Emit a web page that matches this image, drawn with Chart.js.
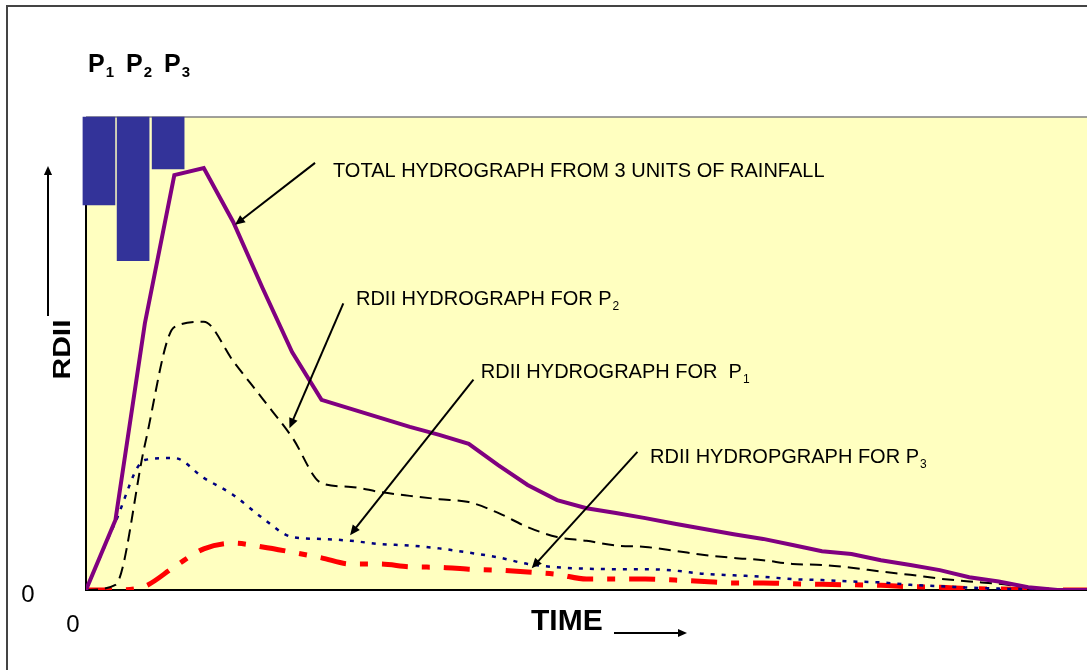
<!DOCTYPE html>
<html>
<head>
    <title>RDII Hydrograph</title>
    <script src="https://cdn.jsdelivr.net/npm/chart.js"></script>
    <style>
        body {
            margin: 0;
            background: #fff;
            overflow: hidden;
        }
        .frame {
            position: absolute;
            left: 6px;
            top: 5px;
            width: 1120px;
            height: 720px;
            border: 2px solid #444;
        }
        #chart {
            position: absolute;
            left: 0;
            top: 0;
        }
    </style>
</head>
<body>
    <div class="frame"></div>
    <canvas id="chart" width="1087" height="670"></canvas>

    <script>
        // time steps (x) and hydrograph ordinates (RDII, arbitrary units 0-100)
        const timeSteps = [0, 1, 2, 3, 4, 5, 6, 7, 8, 9, 10, 11, 12, 13, 14, 15, 16, 17,
                           18, 19, 20, 21, 22, 23, 24, 25, 26, 27, 28, 29, 30, 31, 32, 33, 34];
        const totalFlow = [0, 14.8, 56.4, 87.7, 89.2, 77.8, 63.8, 50.3, 40.2, 38.3, 36.4, 34.5,
                           32.8, 30.9, 26.4, 22.2, 19.0, 17.3, 16.3, 15.2, 14.0, 12.9, 11.8, 10.8,
                           9.5, 8.2, 7.6, 6.3, 5.3, 4.2, 2.7, 1.8, 0.6, 0, 0];
        const flowP2 = [0, 1.1, 30.7, 55.6, 56.7, 48.4, 40.4, 32.3, 22.6, 21.8, 20.7, 19.9,
                        19.2, 18.6, 16.3, 13.3, 11.2, 10.4, 9.4, 9.1, 8.3, 7.4, 6.8, 6.3,
                        5.5, 5.3, 4.7, 3.9, 3.2, 2.4, 1.8, 1.3, 0.5, 0, 0];
        const flowP1 = [0, 14.4, 27.5, 27.9, 23.7, 20.1, 15.2, 11.2, 10.8, 10.4, 9.7, 9.4,
                        8.8, 7.9, 6.9, 5.5, 4.8, 4.5, 4.4, 4.4, 4.1, 3.4, 3.1, 2.8,
                        2.3, 2.1, 1.8, 1.6, 1.1, 0.8, 0.5, 0.3, 0.1, 0, 0];
        const flowP3 = [0, 0, 0.8, 4.9, 8.7, 9.9, 9.1, 8.0, 6.8, 5.5, 5.5, 4.9,
                        4.8, 4.4, 4.2, 3.8, 3.3, 2.3, 2.3, 2.3, 2.1, 1.8, 1.5, 1.5,
                        1.3, 1.2, 1.1, 1.0, 0.7, 0.6, 0.3, 0.2, 0.1, 0, 0];

        // rainfall pulses, hanging from the top of the plot
        const rainLabels = ['P', 'P', 'P'];
        const rainSubs = ['1', '2', '3'];
        const rainTime = [0.44, 1.6, 2.79];
        const rainDepth = [18.6, 30.4, 11.0];

        // callouts: text anchor, arrow tail and arrow tip, all in data units
        const notes = [
            { text: 'TOTAL HYDROGRAPH FROM 3 UNITS OF RAINFALL', sub: '', tx: 8.39, ty: 87.3, fx: 7.78, fy: 90.3, ax: 5.06, ay: 77.2 },
            { text: 'RDII HYDROGRAPH FOR P', sub: '2', tx: 9.17, ty: 60.3, fx: 8.74, fy: 60.6, ax: 6.91, ay: 34.2 },
            { text: 'RDII HYDROGRAPH FOR  P', sub: '1', tx: 13.41, ty: 44.8, fx: 13.16, fy: 44.5, ax: 8.97, ay: 11.6 },
            { text: 'RDII HYDROPGRAPH FOR P', sub: '3', tx: 19.16, ty: 26.8, fx: 18.73, fy: 29.2, ax: 15.14, ay: 4.6 }
        ];

        const FONT = '"Liberation Sans", Arial, sans-serif';

        function pts(ys) {
            return timeSteps.map((t, i) => ({ x: t, y: ys[i] }));
        }

        function arrow(ctx, x1, y1, x2, y2, head) {
            const ang = Math.atan2(y2 - y1, x2 - x1);
            ctx.beginPath();
            ctx.moveTo(x1, y1);
            ctx.lineTo(x2 - Math.cos(ang) * head * 0.6, y2 - Math.sin(ang) * head * 0.6);
            ctx.stroke();
            ctx.beginPath();
            ctx.moveTo(x2, y2);
            ctx.lineTo(x2 - head * Math.cos(ang) + head * 0.45 * Math.sin(ang),
                       y2 - head * Math.sin(ang) - head * 0.45 * Math.cos(ang));
            ctx.lineTo(x2 - head * Math.cos(ang) - head * 0.45 * Math.sin(ang),
                       y2 - head * Math.sin(ang) + head * 0.45 * Math.cos(ang));
            ctx.closePath();
            ctx.fill();
        }

        const decor = {
            id: 'decor',
            beforeDraw(chart) {
                const { ctx, chartArea: a } = chart;
                ctx.save();
                ctx.fillStyle = '#FFFFC0';
                ctx.fillRect(a.left, a.top, a.right - a.left, a.bottom - a.top);
                ctx.restore();
            },
            beforeDatasetsDraw(chart) {
                const { ctx, chartArea: a } = chart;
                ctx.save();
                ctx.strokeStyle = '#808080';
                ctx.lineWidth = 1.5;
                ctx.beginPath();
                ctx.moveTo(a.left, a.top);
                ctx.lineTo(a.right, a.top);
                ctx.stroke();
                ctx.strokeStyle = '#000';
                ctx.lineWidth = 2;
                ctx.beginPath();
                ctx.moveTo(a.left, a.top);
                ctx.lineTo(a.left, a.bottom);
                ctx.lineTo(a.right, a.bottom);
                ctx.stroke();
                ctx.restore();
            },
            afterDraw(chart) {
                const { ctx, chartArea: a } = chart;
                const xs = chart.scales.x, ys = chart.scales.y;
                ctx.save();
                ctx.fillStyle = '#000';
                ctx.strokeStyle = '#000';
                ctx.lineWidth = 2;
                ctx.textAlign = 'left';
                ctx.textBaseline = 'alphabetic';

                // callouts
                notes.forEach(n => {
                    arrow(ctx, xs.getPixelForValue(n.fx), ys.getPixelForValue(n.fy),
                          xs.getPixelForValue(n.ax), ys.getPixelForValue(n.ay), 10);
                    const tx = xs.getPixelForValue(n.tx), ty = ys.getPixelForValue(n.ty);
                    ctx.font = '20px ' + FONT;
                    ctx.fillText(n.text, tx, ty);
                    if (n.sub) {
                        const w = ctx.measureText(n.text).width;
                        ctx.font = '12px ' + FONT;
                        ctx.fillText(n.sub, tx + w + 1, ty + 5);
                    }
                });

                // P1 P2 P3 over the rain bars
                const bar0 = chart.getDatasetMeta(0).data[0];
                let px = bar0.x - bar0.width / 2 + 5;
                rainLabels.forEach((lab, i) => {
                    ctx.font = 'bold 25px ' + FONT;
                    ctx.fillText(lab, px, a.top - 45);
                    px += ctx.measureText(lab).width + 1;
                    ctx.font = 'bold 15px ' + FONT;
                    ctx.fillText(rainSubs[i], px, a.top - 40);
                    px += ctx.measureText(rainSubs[i]).width + 12;
                });

                // zero labels
                ctx.font = '24px ' + FONT;
                ctx.textAlign = 'center';
                ctx.fillText('0', a.left - 58, a.bottom + 12);
                ctx.fillText('0', a.left - 13, a.bottom + 42);

                // axis titles with arrows
                ctx.font = 'bold 30px ' + FONT;
                ctx.textAlign = 'left';
                ctx.fillText('TIME', a.left + 445, a.bottom + 40);
                arrow(ctx, a.left + 528, a.bottom + 43, a.left + 601, a.bottom + 43, 9);

                ctx.save();
                ctx.translate(a.left - 16, (a.top + a.bottom) / 2 - 4);
                ctx.rotate(-Math.PI / 2);
                ctx.scale(1, 0.8);
                ctx.textAlign = 'center';
                ctx.fillText('RDII', 0, 0);
                ctx.restore();
                arrow(ctx, a.left - 38, a.top + 199, a.left - 38, a.top + 49, 9);

                ctx.restore();
            }
        };

        new Chart(document.getElementById('chart'), {
            type: 'line',
            data: {
                datasets: [
                    {
                        type: 'bar',
                        label: 'Rainfall',
                        data: rainTime.map((t, i) => ({ x: t, y: rainDepth[i] })),
                        xAxisID: 'x',
                        yAxisID: 'yRain',
                        backgroundColor: '#333399',
                        barThickness: 32,
                        clip: false
                    },
                    {
                        label: 'Total hydrograph',
                        data: pts(totalFlow),
                        borderColor: '#800080',
                        borderWidth: 4,
                        tension: 0,
                        pointRadius: 0
                    },
                    {
                        label: 'RDII P2',
                        data: pts(flowP2),
                        borderColor: '#000000',
                        borderWidth: 2,
                        borderDash: [12, 7],
                        cubicInterpolationMode: 'monotone',
                        pointRadius: 0
                    },
                    {
                        label: 'RDII P1',
                        data: pts(flowP1),
                        borderColor: '#000080',
                        borderWidth: 2.5,
                        borderDash: [4, 7],
                        cubicInterpolationMode: 'monotone',
                        pointRadius: 0
                    },
                    {
                        label: 'RDII P3',
                        data: pts(flowP3),
                        borderColor: '#FF0000',
                        borderWidth: 5,
                        borderDash: [26, 14, 8, 14],
                        cubicInterpolationMode: 'monotone',
                        pointRadius: 0
                    }
                ]
            },
            options: {
                responsive: false,
                devicePixelRatio: 1,
                animation: false,
                layout: { padding: { left: 86, top: 117, right: 0, bottom: 80 } },
                plugins: {
                    legend: { display: false },
                    tooltip: { enabled: false }
                },
                scales: {
                    x: { type: 'linear', axis: 'x', min: 0, max: 34, offset: false, display: false },
                    y: { type: 'linear', axis: 'y', min: 0, max: 100, display: false },
                    yRain: { type: 'linear', axis: 'y', min: 0, max: 100, reverse: true, display: false }
                }
            },
            plugins: [decor]
        });
    </script>
</body>
</html>
